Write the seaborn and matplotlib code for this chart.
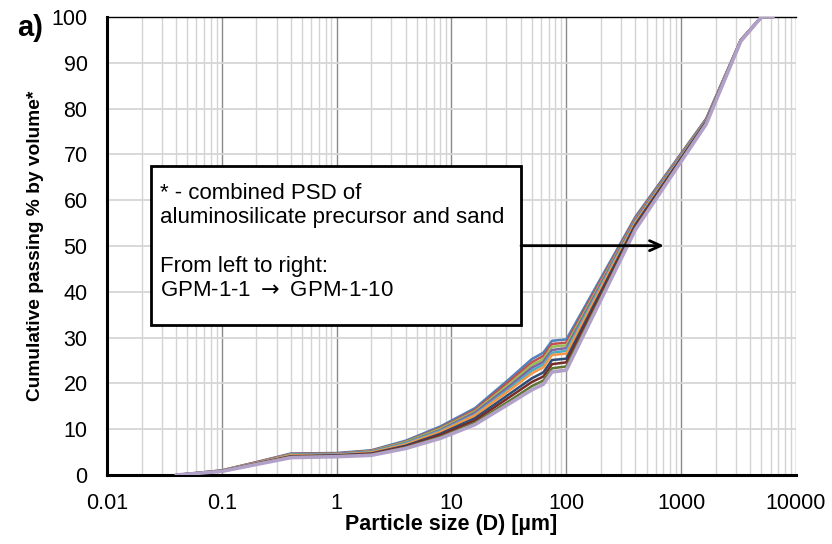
import numpy as np
import pandas as pd
import matplotlib
matplotlib.use("Agg")
import matplotlib.pyplot as plt
from matplotlib.patches import Rectangle
from matplotlib.ticker import FixedLocator, FixedFormatter, LogLocator, NullFormatter
import seaborn as sns

# 粒径 [µm]
SIZES = [0.04, 0.1, 0.2, 0.4, 1, 2, 4, 8, 16, 32, 50, 63, 75, 100, 400, 1650, 3300, 5000, 6300]

# 累積通過率 [%] (GPM-1-1 ... GPM-1-10)
GPM_1_1 = [0, 1.0, 2.8, 4.7, 4.8, 5.4, 7.5, 10.6, 14.6, 21.0, 25.3, 26.7, 29.3, 29.6, 56.4, 77.8, 95.0, 100, 100]
GPM_1_2 = [0, 1.0, 2.8, 4.6, 4.7, 5.3, 7.3, 10.3, 14.2, 20.5, 24.6, 26.0, 28.6, 28.9, 56.1, 77.7, 95.0, 100, 100]
GPM_1_3 = [0, 1.0, 2.7, 4.5, 4.6, 5.2, 7.2, 10.1, 13.9, 19.9, 24.0, 25.3, 28.0, 28.3, 55.8, 77.6, 94.9, 100, 100]
GPM_1_4 = [0, 0.9, 2.7, 4.4, 4.6, 5.1, 7.0, 9.8, 13.6, 19.4, 23.4, 24.7, 27.3, 27.7, 55.6, 77.5, 94.9, 100, 100]
GPM_1_5 = [0, 0.9, 2.6, 4.4, 4.5, 5.0, 6.9, 9.6, 13.2, 18.9, 22.8, 24.1, 26.7, 27.1, 55.3, 77.3, 94.9, 100, 100]
GPM_1_6 = [0, 0.9, 2.6, 4.3, 4.4, 4.9, 6.7, 9.4, 13.0, 18.5, 22.2, 23.5, 26.2, 26.5, 55.1, 77.2, 94.9, 100, 100]
GPM_1_7 = [0, 0.9, 2.5, 4.1, 4.3, 4.7, 6.4, 9.0, 12.4, 17.7, 21.1, 22.4, 25.1, 25.4, 54.7, 77.1, 94.8, 100, 100]
GPM_1_8 = [0, 0.9, 2.4, 4.0, 4.2, 4.6, 6.2, 8.7, 11.9, 17.0, 20.3, 21.5, 24.2, 24.6, 54.3, 76.9, 94.8, 100, 100]
GPM_1_9 = [0, 0.8, 2.4, 3.9, 4.1, 4.4, 6.0, 8.3, 11.4, 16.2, 19.4, 20.6, 23.3, 23.7, 53.9, 76.7, 94.7, 100, 100]
GPM_1_10 = [0, 0.8, 2.3, 3.8, 4.0, 4.3, 5.8, 8.0, 11.0, 15.6, 18.6, 19.8, 22.5, 22.9, 53.6, 76.6, 94.7, 100, 100]

SERIES_NAMES = ["GPM-1-1", "GPM-1-2", "GPM-1-3", "GPM-1-4", "GPM-1-5",
                "GPM-1-6", "GPM-1-7", "GPM-1-8", "GPM-1-9", "GPM-1-10"]
SERIES_VALUES = [GPM_1_1, GPM_1_2, GPM_1_3, GPM_1_4, GPM_1_5,
                 GPM_1_6, GPM_1_7, GPM_1_8, GPM_1_9, GPM_1_10]
COLORS = ["#4F81BD", "#C0504D", "#9BBB59", "#8064A2", "#4BACC6",
          "#F79646", "#2C4D75", "#772C2A", "#5F7530", "#B1A0C7"]

X_TICKS = [0.01, 0.1, 1, 10, 100, 1000, 10000]
X_TICK_LABELS = ["0.01", "0.1", "1", "10", "100", "1000", "10000"]
Y_TICKS = [0, 10, 20, 30, 40, 50, 60, 70, 80, 90, 100]

sns.set_style("white")
plt.rcParams['font.family'] = ['Liberation Sans', 'DejaVu Sans']
plt.rcParams['text.color'] = 'black'
plt.rcParams['axes.labelcolor'] = 'black'
plt.rcParams['mathtext.fontset'] = 'dejavusans'

# 縦持ちデータに変換
rows = []
for name, vals in zip(SERIES_NAMES, SERIES_VALUES):
    for s, v in zip(SIZES, vals):
        rows.append({"Size": s, "Passing": v, "Mix": name})
df = pd.DataFrame(rows)

fig = plt.figure(figsize=(8.32, 5.44), dpi=100)
ax = fig.add_axes([107 / 832, 69 / 544, 689 / 832, 458 / 544])

sns.lineplot(data=df, x="Size", y="Passing", hue="Mix", hue_order=SERIES_NAMES,
             palette=dict(zip(SERIES_NAMES, COLORS)), sort=False, legend=False,
             linewidth=1.8, ax=ax, zorder=3)
ax.lines[-1].set_linewidth(2.6)

ax.set_xscale("log")
ax.set_xlim(0.01, 10000)
ax.set_ylim(0, 100)

ax.xaxis.set_major_locator(FixedLocator(X_TICKS))
ax.xaxis.set_major_formatter(FixedFormatter(X_TICK_LABELS))
ax.xaxis.set_minor_locator(LogLocator(base=10, subs=np.arange(2, 10), numticks=20))
ax.xaxis.set_minor_formatter(NullFormatter())
ax.set_yticks(Y_TICKS)

# グリッド
ax.grid(True, which="major", axis="x", color="#8a8a8a", linewidth=1.0, zorder=0)
ax.grid(True, which="minor", axis="x", color="#d3d3d3", linewidth=1.0, zorder=0)
ax.grid(True, which="major", axis="y", color="#d6d6d6", linewidth=1.3, zorder=0)
ax.set_axisbelow(True)

ax.tick_params(axis="both", which="major", direction="out", length=6, width=1,
               color="black", labelsize=15.5, labelcolor="black")
ax.tick_params(axis="y", pad=8)
ax.tick_params(axis="x", pad=7)
ax.tick_params(axis="x", which="minor", length=0)

for side in ["left", "bottom"]:
    ax.spines[side].set_color("black")
    ax.spines[side].set_linewidth(2.2)
ax.spines["top"].set_color("black")
ax.spines["top"].set_linewidth(1.0)
ax.spines["right"].set_visible(False)

ax.set_xlabel("Particle size (D) [µm]", fontsize=15.5, fontweight="bold", labelpad=0)
ax.set_ylabel("Cumulative passing % by volume*", fontsize=13.8, fontweight="bold", labelpad=5)

# 注記ボックスと矢印
box = Rectangle((0.0639, 0.3275), 0.537, 0.3472, transform=ax.transAxes,
                facecolor="white", edgecolor="black", linewidth=2, zorder=5)
ax.add_patch(box)
ax.text(0.0769, 0.637,
        "* - combined PSD of\naluminosilicate precursor and sand\n\nFrom left to right:\nGPM-1-1 $\\rightarrow$ GPM-1-10",
        transform=ax.transAxes, ha="left", va="top", fontsize=16, linespacing=1.2, zorder=6)
ax.annotate("", xy=(0.8084, 0.5007), xytext=(0.6009, 0.5007),
            xycoords="axes fraction", textcoords="axes fraction",
            arrowprops=dict(arrowstyle="->,head_length=0.8,head_width=0.36",
                            lw=2, color="black", mutation_scale=10,
                            shrinkA=0, shrinkB=0),
            zorder=6)

fig.text(17 / 832, 1 - 28 / 544, "a)", fontsize=21, fontweight="bold", ha="left", va="center")

fig.savefig("out.png", dpi=100)
